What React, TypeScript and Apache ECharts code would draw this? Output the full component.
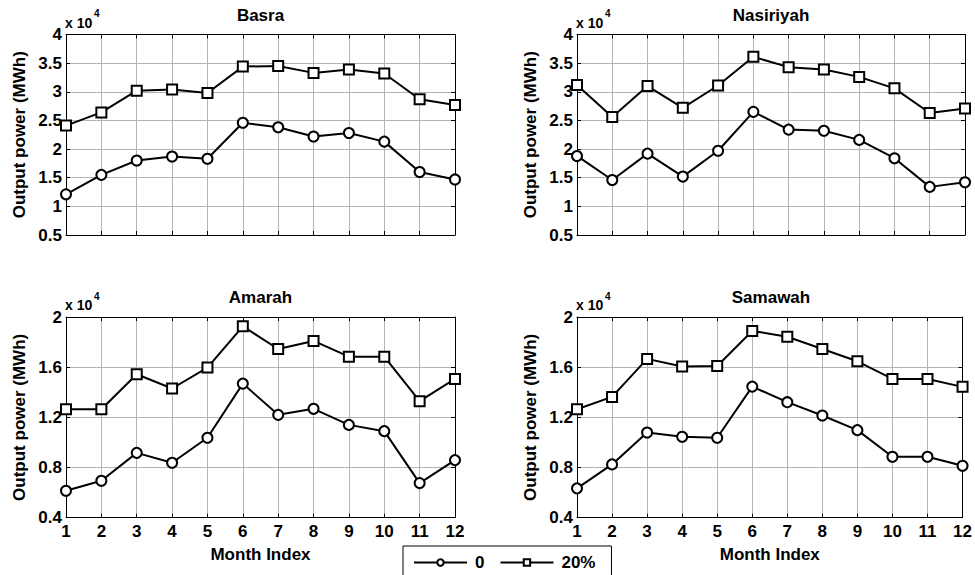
import React, { useEffect, useRef } from "react";
import * as echarts from "echarts";

const months = [1, 2, 3, 4, 5, 6, 7, 8, 9, 10, 11, 12];
const seriesNames = ["0", "20%"];

const basra0 = [12100, 15500, 18000, 18700, 18300, 24600, 23800, 22200, 22800, 21300, 16000, 14700];
const basra20 = [24100, 26400, 30200, 30400, 29800, 34400, 34500, 33300, 33900, 33200, 28700, 27700];
const nasiriyah0 = [18800, 14600, 19200, 15200, 19700, 26500, 23400, 23200, 21600, 18400, 13400, 14200];
const nasiriyah20 = [31200, 25600, 31000, 27200, 31100, 36100, 34300, 33900, 32600, 30600, 26300, 27100];
const amarah0 = [6150, 6950, 9170, 8380, 10370, 14690, 12200, 12680, 11400, 10900, 6760, 8590];
const amarah20 = [12650, 12650, 15440, 14300, 15970, 19260, 17450, 18090, 16840, 16840, 13290, 15060];
const samawah0 = [6340, 8250, 10790, 10450, 10370, 14450, 13210, 12150, 10980, 8860, 8860, 8140];
const samawah20 = [12650, 13630, 16660, 16050, 16100, 18890, 18430, 17450, 16470, 15060, 15060, 14430];

const titles = ["Basra", "Nasiriyah", "Amarah", "Samawah"];
const yRanges = [
  [5000, 40000, 5000],
  [5000, 40000, 5000],
  [4000, 20000, 4000],
  [4000, 20000, 4000],
];
const yName = "Output power (MWh)";
const xName = "Month Index";

const FONT = "'Liberation Sans', Arial, sans-serif";
const FS = 17;

export default function App() {
  const ref = useRef<HTMLDivElement>(null);
  useEffect(() => {
    if (!ref.current) return;
    const chart = echarts.init(ref.current, undefined, { renderer: "svg" });

    const grids = [
      { left: 66, top: 34.5, width: 389, height: 200.5 },
      { left: 577, top: 34.5, width: 388, height: 200.5 },
      { left: 66, top: 317, width: 389, height: 200.7 },
      { left: 577, top: 317, width: 388, height: 200.7 },
    ];
    const data = [
      [basra0, basra20],
      [nasiriyah0, nasiriyah20],
      [amarah0, amarah20],
      [samawah0, samawah20],
    ];

    const xAxis: any[] = [];
    const yAxis: any[] = [];
    const series: any[] = [];
    const graphic: any[] = [];
    const lineStyle = { color: "#000", width: 1 };
    const tick = { show: true, inside: true, length: 4, lineStyle: { color: "#000", width: 1 } };

    grids.forEach((g, i) => {
      const bottom = i >= 2;
      xAxis.push({
        type: "value",
        gridIndex: i,
        min: 1,
        max: 12,
        interval: 1,
        position: "bottom",
        axisLine: { show: true, onZero: false, lineStyle },
        axisTick: tick,
        axisLabel: {
          show: bottom,
          color: "#000",
          fontFamily: FONT,
          fontWeight: "bold",
          fontSize: FS,
          margin: 5,
        },
        splitLine: { show: true, lineStyle: { color: "#b4b4b4", width: 1 } },
        name: bottom ? xName : "",
        nameLocation: "middle",
        nameGap: 28,
        nameTextStyle: { color: "#000", fontFamily: FONT, fontWeight: "bold", fontSize: FS, verticalAlign: "top" },
      });
      xAxis.push({
        type: "value",
        gridIndex: i,
        min: 1,
        max: 12,
        interval: 1,
        position: "top",
        axisLine: { show: true, onZero: false, lineStyle },
        axisTick: tick,
        axisLabel: { show: false },
        splitLine: { show: false },
      });
      const [mn, mx, iv] = yRanges[i];
      yAxis.push({
        type: "value",
        gridIndex: i,
        min: mn,
        max: mx,
        interval: iv,
        position: "left",
        axisLine: { show: true, onZero: false, lineStyle },
        axisTick: tick,
        axisLabel: {
          color: "#000",
          fontFamily: FONT,
          fontWeight: "bold",
          fontSize: FS,
          margin: 4,
          formatter: (v: number) => String(Math.round(v / 1000) / 10),
        },
        splitLine: { show: true, lineStyle: { color: "#b4b4b4", width: 1 } },
        name: yName,
        nameLocation: "middle",
        nameGap: 38,
        nameRotate: 90,
        nameTextStyle: { color: "#000", fontFamily: FONT, fontWeight: "bold", fontSize: FS },
      });
      yAxis.push({
        type: "value",
        gridIndex: i,
        min: mn,
        max: mx,
        interval: iv,
        position: "right",
        axisLine: { show: true, onZero: false, lineStyle },
        axisTick: tick,
        axisLabel: { show: false },
        splitLine: { show: false },
      });

      data[i].forEach((vals, k) => {
        series.push({
          type: "line",
          name: seriesNames[k],
          xAxisIndex: i * 2,
          yAxisIndex: i * 2,
          data: months.map((m, j) => [m, vals[j]]),
          symbol: k === 0 ? "emptyCircle" : "emptyRect",
          symbolSize: 10,
          showAllSymbol: true,
          lineStyle: { color: "#000", width: 2 },
          itemStyle: { color: "#000", borderColor: "#000", borderWidth: 1.8 },
          emphasis: { disabled: true },
          z: 5,
        });
      });

      graphic.push({
        type: "text",
        x: g.left + g.width / 2,
        y: g.top - 19.5,
        style: {
          text: titles[i],
          textAlign: "center",
          textVerticalAlign: "middle",
          fill: "#000",
          font: `bold ${FS}px ${FONT}`,
        },
      });
      graphic.push({
        type: "text",
        x: g.left - 1,
        y: g.top - 5,
        style: {
          text: "x 10",
          textAlign: "left",
          textVerticalAlign: "bottom",
          fill: "#000",
          font: `bold 14px ${FONT}`,
        },
      });
      graphic.push({
        type: "text",
        x: g.left + 28,
        y: g.top - 16,
        style: {
          text: "4",
          textAlign: "left",
          textVerticalAlign: "bottom",
          fill: "#000",
          font: `bold 10px ${FONT}`,
        },
      });
    });

    chart.setOption({
      animation: false,
      backgroundColor: "#fff",
      grid: grids.map((g) => ({ ...g, containLabel: false })),
      xAxis,
      yAxis,
      series,
      graphic,
      legend: {
        data: seriesNames,
        left: 403,
        top: 546,
        orient: "horizontal",
        itemWidth: 53,
        itemHeight: 8,
        itemGap: 15,
        padding: [8, 16, 14, 10],
        backgroundColor: "#fff",
        borderColor: "#000",
        borderWidth: 1,
        borderRadius: 0,
        selectedMode: false,
        textStyle: {
          color: "#000",
          fontFamily: FONT,
          fontWeight: "bold",
          fontSize: FS,
          padding: [0, 0, 0, 3],
        },
      },
    });
    return () => chart.dispose();
  }, []);
  return (
    <div
      ref={ref}
      style={{ position: "absolute", left: 0, top: 0, width: 975, height: 575, background: "#fff" }}
    />
  );
}
